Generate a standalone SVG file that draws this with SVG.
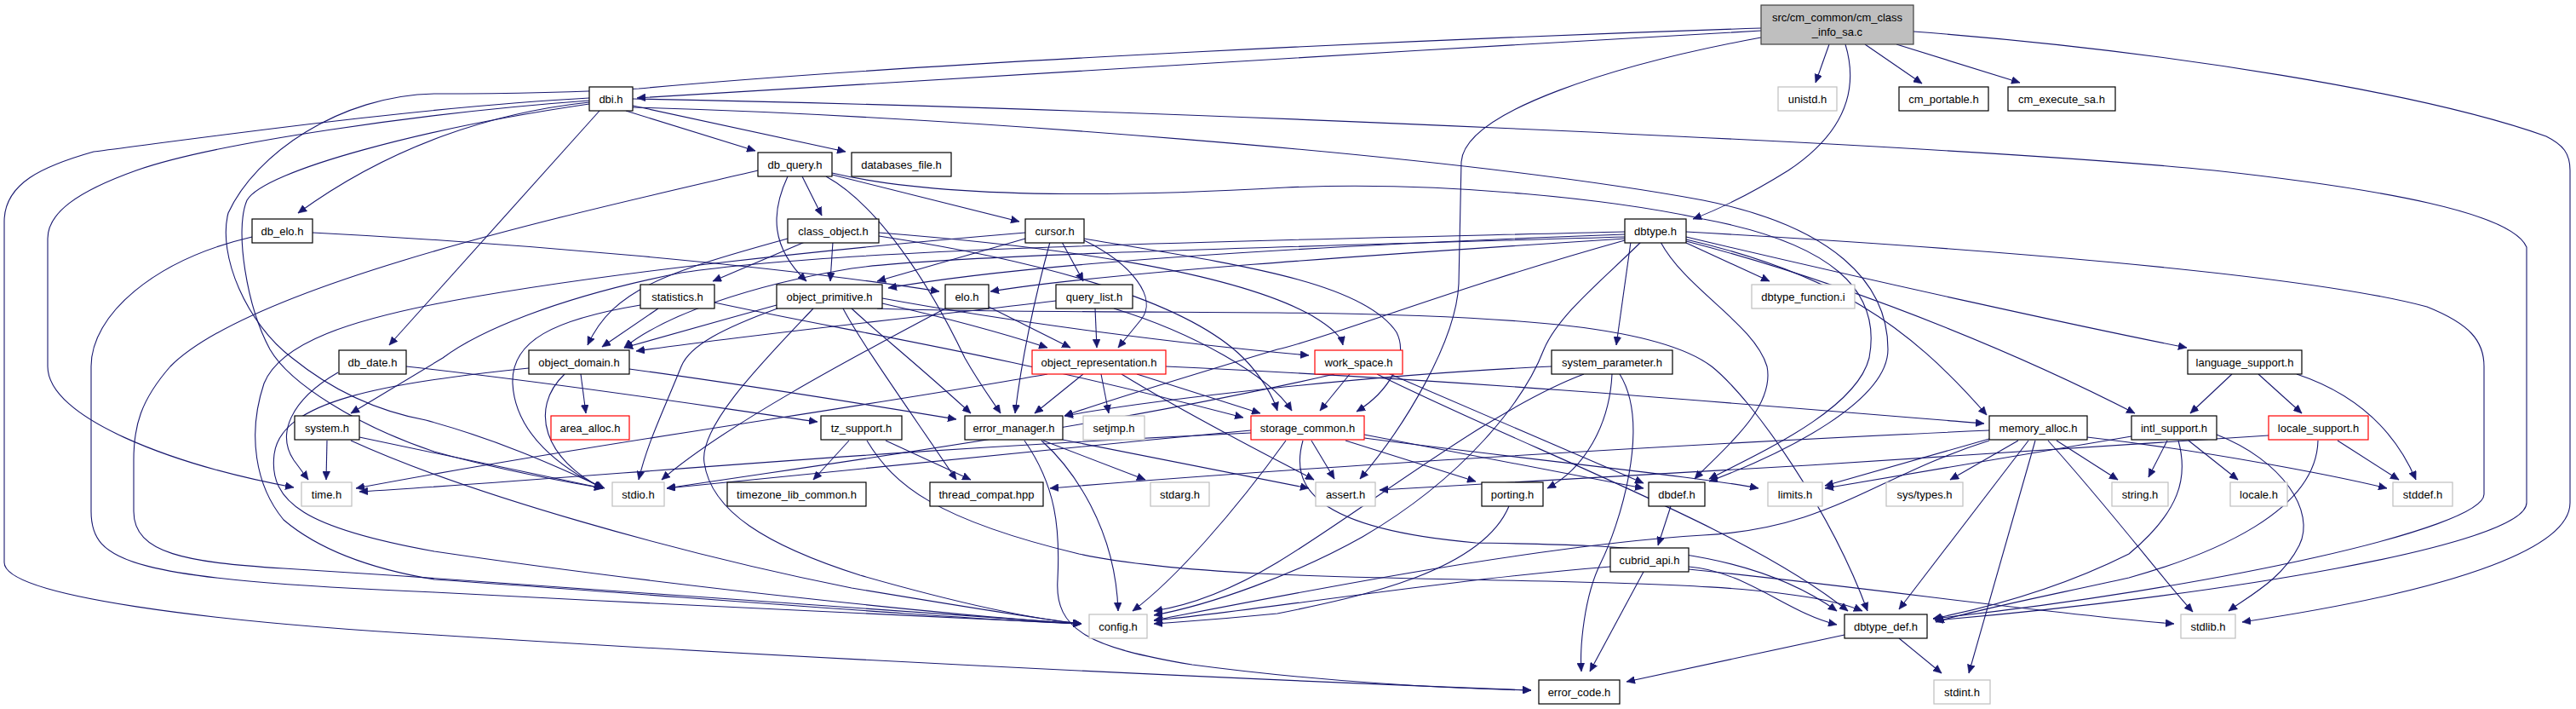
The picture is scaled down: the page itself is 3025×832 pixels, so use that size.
<svg xmlns="http://www.w3.org/2000/svg" width="3025" height="832" viewBox="0 0 3025 832">
<style>
.e{fill:none;stroke:#191970;stroke-width:1.1;marker-end:url(#ah)}
.n rect{fill:#fff;stroke:#000;stroke-width:1.2}
.g rect{fill:#fff;stroke:#bfbfbf;stroke-width:1.2}
.r rect{fill:#fff;stroke:#ff0000;stroke-width:1.2}
.root rect{fill:#bfbfbf;stroke:#404040;stroke-width:1.2}
text{font-family:"Liberation Sans",Arial,Helvetica,sans-serif;font-size:13px;fill:#000;text-anchor:middle}
</style>
<defs>
<marker id="ah" markerUnits="userSpaceOnUse" markerWidth="11" markerHeight="9" refX="10" refY="4.5" orient="auto"><path d="M0,0 L10,4.5 L0,9 z" fill="#191970" stroke="#191970" stroke-width="0.5"/></marker>
</defs>
<rect width="3025" height="832" fill="#fff"/>
<g id="edges">
<path class="e" d="M2068,36 C1600,62 1000,100 748,115"/>
<path class="e" d="M2148,52 L2132,97"/>
<path class="e" d="M2190,52 L2257,98"/>
<path class="e" d="M2227,52 L2372,97"/>
<path class="e" d="M2167,52 C2180,95 2175,150 2100,200 C2060,225 2020,245 1988,257"/>
<path class="e" d="M2068,44 C1900,75 1720,130 1716,190 L1713,333 C1710,400 1650,500 1597,562"/>
<path class="e" d="M2247,37 C2550,60 2850,110 2990,160 C3010,170 3018,180 3018,200 L3018,590 C3018,640 2900,690 2633,730"/>
<path class="e" d="M2068,33 C1700,45 1100,72 750,104 C650,110 560,110 510,110 C400,112 300,180 268,250 C255,300 290,380 343,420 C380,450 430,480 500,493 C600,520 680,560 710,573"/>
<path class="e" d="M735,130 L887,177"/>
<path class="e" d="M743,124 L993,178"/>
<path class="e" d="M704,130 L457,405"/>
<path class="e" d="M692,120 C580,132 460,170 350,250"/>
<path class="e" d="M692,118 C500,132 250,168 160,200 C90,225 56,250 56,280 L56,430 C56,490 200,545 345,572"/>
<path class="e" d="M692,115 C500,125 250,160 110,178 C50,195 5,215 5,260 L5,660 C5,700 250,730 510,745 C900,770 1400,795 1798,810"/>
<path class="e" d="M692,122 C500,150 310,200 290,235 C275,270 290,360 317,410 C340,450 420,500 510,530 C600,555 680,568 708,573"/>
<path class="e" d="M743,116 C1300,126 2300,170 2600,200 C2800,222 2950,250 2967,290 L2967,590 C2967,640 2600,700 2272,728"/>
<path class="e" d="M743,126 C1100,136 1700,180 2000,235 C2150,265 2217,330 2217,410 C2217,470 2100,530 2007,565"/>
<path class="e" d="M942,207 L965,253"/>
<path class="e" d="M925,207 C905,250 905,290 947,330"/>
<path class="e" d="M977,205 L1197,260"/>
<path class="e" d="M970,207 C1030,240 1090,330 1133,420 C1150,450 1165,470 1175,485"/>
<path class="e" d="M977,203 C1100,232 1300,232 1510,220 C1700,212 1900,235 2000,257 C2150,285 2210,340 2195,420 C2180,480 2070,530 2007,562"/>
<path class="e" d="M890,200 C700,245 300,330 200,430 C165,470 157,500 157,540 L157,600 C157,650 220,660 333,667 C700,690 1100,720 1270,732"/>
<path class="e" d="M945,284 L837,330"/>
<path class="e" d="M978,284 L975,330"/>
<path class="e" d="M925,280 C780,320 720,340 690,405"/>
<path class="e" d="M1032,273 C1250,290 1450,320 1540,370 C1565,385 1575,395 1577,405"/>
<path class="e" d="M1032,277 C1250,310 1400,360 1460,420 C1480,440 1495,465 1500,482"/>
<path class="e" d="M1204,280 L1030,330"/>
<path class="e" d="M1247,284 L1272,330"/>
<path class="e" d="M1233,284 C1215,350 1200,420 1192,485"/>
<path class="e" d="M1273,282 C1330,310 1360,350 1340,375 L1313,408"/>
<path class="e" d="M1273,280 C1450,310 1600,330 1640,390 C1655,420 1630,460 1593,483"/>
<path class="e" d="M1204,273 C1000,290 700,320 510,357 C420,375 330,400 310,450 C290,510 300,570 333,610 C380,650 450,670 510,680 C800,700 1100,725 1270,732"/>
<path class="e" d="M1286,362 L1288,408"/>
<path class="e" d="M1240,353 C1100,370 900,390 747,412"/>
<path class="e" d="M1308,362 C1400,390 1490,440 1517,482"/>
<path class="e" d="M773,362 L707,407"/>
<path class="e" d="M752,358 C650,375 600,400 602,450 C605,510 660,550 708,573"/>
<path class="e" d="M839,355 C1000,390 1150,410 1460,490"/>
<path class="e" d="M912,358 C850,375 780,395 733,408"/>
<path class="e" d="M913,362 C850,385 810,405 800,430 C780,480 760,520 750,563"/>
<path class="e" d="M955,362 C900,420 820,500 827,543 C835,600 900,640 1010,675 C1150,715 1230,728 1270,732"/>
<path class="e" d="M1000,362 C1030,390 1080,430 1140,485"/>
<path class="e" d="M990,362 C1010,400 1060,470 1123,563"/>
<path class="e" d="M1036,356 C1120,375 1190,395 1230,408"/>
<path class="e" d="M1036,350 C1200,380 1400,405 1537,417"/>
<path class="e" d="M1030,362 C1100,366 1400,366 1500,367 C1800,370 1950,385 2010,430 C2060,470 2150,600 2193,717"/>
<path class="e" d="M1110,362 C1000,420 850,500 777,563"/>
<path class="e" d="M1161,360 L1257,408"/>
<path class="e" d="M1908,280 C1600,300 1300,320 1163,342"/>
<path class="e" d="M1908,275 C1500,290 1200,310 1043,338"/>
<path class="e" d="M1908,278 C1500,290 1100,300 1000,315 C880,335 780,370 733,408"/>
<path class="e" d="M1908,272 C1500,282 1000,290 800,320 C650,350 560,390 520,420 L412,485"/>
<path class="e" d="M1908,282 C1700,340 1550,400 1500,410 C1400,440 1300,470 1250,488"/>
<path class="e" d="M1927,284 C1880,330 1830,370 1813,410 C1790,470 1720,560 1600,630 C1520,675 1420,710 1355,722"/>
<path class="e" d="M1915,284 L1898,405"/>
<path class="e" d="M1980,285 L2078,330"/>
<path class="e" d="M1980,281 C2150,320 2240,380 2333,487"/>
<path class="e" d="M1980,283 C2200,340 2400,430 2507,485"/>
<path class="e" d="M1980,278 C2200,330 2450,385 2568,408"/>
<path class="e" d="M1950,284 C1980,340 2060,380 2075,430 C2085,480 2020,530 1990,562"/>
<path class="e" d="M1980,272 C2300,290 2700,320 2850,360 C2900,380 2917,400 2917,430 L2917,580 C2917,620 2600,690 2270,726"/>
<path class="e" d="M682,439 L688,485"/>
<path class="e" d="M663,439 C620,480 640,540 708,573"/>
<path class="e" d="M739,433 C900,455 1050,480 1123,492"/>
<path class="e" d="M621,432 C450,450 330,470 322,533 C315,590 360,620 510,647 C800,690 1150,725 1270,732"/>
<path class="e" d="M367,273 C600,285 900,310 1103,342"/>
<path class="e" d="M296,278 C180,305 107,370 107,430 L107,600 C107,660 150,680 510,695 C800,710 1150,728 1270,732"/>
<path class="e" d="M397,437 C340,470 325,510 345,540 L362,563"/>
<path class="e" d="M477,430 C700,455 850,480 960,495"/>
<path class="e" d="M384,517 L383,563"/>
<path class="e" d="M422,513 C550,540 650,560 708,573"/>
<path class="e" d="M412,517 C550,580 800,650 1000,690 C1150,715 1230,728 1270,732"/>
<path class="e" d="M997,517 L955,563"/>
<path class="e" d="M1040,517 L1140,563"/>
<path class="e" d="M1018,517 C1050,570 1100,610 1267,650 C1500,700 2050,660 2187,717"/>
<path class="e" d="M1223,517 C1260,550 1310,620 1313,717"/>
<path class="e" d="M1225,517 L1345,563"/>
<path class="e" d="M1203,517 C1240,570 1245,620 1242,680 C1238,740 1280,760 1400,780 C1550,800 1700,808 1798,810"/>
<path class="e" d="M1248,516 L1537,573"/>
<path class="e" d="M1272,439 L1215,485"/>
<path class="e" d="M1293,439 L1302,485"/>
<path class="e" d="M1335,439 L1480,485"/>
<path class="e" d="M1230,439 C1000,480 700,520 418,573"/>
<path class="e" d="M1369,430 C1700,445 2000,470 2330,497"/>
<path class="e" d="M1317,439 C1400,490 1500,540 1543,563"/>
<path class="e" d="M1585,439 L1550,482"/>
<path class="e" d="M1567,439 C1300,500 1000,540 783,573"/>
<path class="e" d="M1630,438 L1930,567"/>
<path class="e" d="M1617,439 C1800,530 2050,620 2170,717"/>
<path class="e" d="M1822,430 C1600,440 1350,470 1250,488"/>
<path class="e" d="M1893,439 C1890,500 1860,550 1817,573"/>
<path class="e" d="M1860,439 C1750,480 1600,600 1500,660 C1450,690 1400,710 1355,717"/>
<path class="e" d="M1902,439 C1940,500 1900,620 1880,660 C1860,700 1855,760 1857,788"/>
<path class="e" d="M1540,517 L1567,562"/>
<path class="e" d="M1580,517 L1733,565"/>
<path class="e" d="M1602,510 L1930,573"/>
<path class="e" d="M1510,517 C1450,600 1380,680 1330,717"/>
<path class="e" d="M1602,514 C1800,540 2000,560 2065,573"/>
<path class="e" d="M1530,517 C1515,570 1540,620 1733,637 C1900,640 2050,640 2157,717"/>
<path class="e" d="M1469,508 C1000,530 700,560 422,577"/>
<path class="e" d="M1469,505 C1200,530 900,560 783,573"/>
<path class="e" d="M2336,515 L2143,570"/>
<path class="e" d="M2370,517 L2290,563"/>
<path class="e" d="M2415,517 L2487,563"/>
<path class="e" d="M2405,517 C2480,600 2540,680 2575,718"/>
<path class="e" d="M2390,517 L2312,790"/>
<path class="e" d="M2382,517 L2230,715"/>
<path class="e" d="M2336,505 C2000,520 1500,550 1233,573"/>
<path class="e" d="M2451,513 C2600,530 2750,560 2803,573"/>
<path class="e" d="M2336,517 C2200,560 2150,620 2000,628 C1800,640 1500,700 1355,728"/>
<path class="e" d="M2545,517 L2523,560"/>
<path class="e" d="M2570,517 L2628,563"/>
<path class="e" d="M2603,510 C2680,540 2720,600 2700,640 C2680,680 2640,700 2617,717"/>
<path class="e" d="M2558,517 C2570,560 2560,600 2500,650 C2400,700 2300,720 2270,726"/>
<path class="e" d="M2503,512 L2143,573"/>
<path class="e" d="M2745,517 L2817,563"/>
<path class="e" d="M2722,517 C2720,600 2600,650 2500,678 C2400,700 2300,720 2273,730"/>
<path class="e" d="M2664,511 C2400,530 1900,560 1620,575"/>
<path class="e" d="M2621,439 L2572,485"/>
<path class="e" d="M2652,439 L2703,485"/>
<path class="e" d="M2697,439 C2760,460 2810,500 2837,563"/>
<path class="e" d="M1772,594 C1740,670 1600,700 1500,720 C1420,728 1380,730 1355,732"/>
<path class="e" d="M1962,594 L1947,640"/>
<path class="e" d="M1891,665 C1700,680 1450,720 1355,728"/>
<path class="e" d="M1930,671 L1867,788"/>
<path class="e" d="M1983,665 C2050,670 2100,720 2157,733"/>
<path class="e" d="M1983,668 C2200,690 2400,720 2553,732"/>
<path class="e" d="M2230,749 L2280,790"/>
<path class="e" d="M2166,745 L1910,800"/>
</g>
<g id="node-root" class="root"><rect x="2068" y="6" width="179" height="46"/><text x="2157.5" y="25">src/cm_common/cm_class</text><text x="2157.5" y="42">_info_sa.c</text></g>
<g id="node-dbi" class="n"><rect x="692" y="102" width="51" height="28"/><text x="717.5" y="120.5">dbi.h</text></g>
<g id="node-unistd" class="g"><rect x="2088" y="102" width="69" height="28"/><text x="2122.5" y="120.5">unistd.h</text></g>
<g id="node-cm_portable" class="n"><rect x="2230" y="102" width="105" height="28"/><text x="2282.5" y="120.5">cm_portable.h</text></g>
<g id="node-cm_execute_sa" class="n"><rect x="2358" y="102" width="126" height="28"/><text x="2421" y="120.5">cm_execute_sa.h</text></g>
<g id="node-db_query" class="n"><rect x="890" y="179" width="87" height="28"/><text x="933.5" y="197.5">db_query.h</text></g>
<g id="node-databases_file" class="n"><rect x="1000" y="179" width="117" height="28"/><text x="1058.5" y="197.5">databases_file.h</text></g>
<g id="node-db_elo" class="n"><rect x="296" y="257" width="71" height="28"/><text x="331.5" y="275.5">db_elo.h</text></g>
<g id="node-class_object" class="n"><rect x="925" y="257" width="107" height="28"/><text x="978.5" y="275.5">class_object.h</text></g>
<g id="node-cursor" class="n"><rect x="1204" y="257" width="69" height="28"/><text x="1238.5" y="275.5">cursor.h</text></g>
<g id="node-dbtype" class="n"><rect x="1908" y="257" width="72" height="28"/><text x="1944" y="275.5">dbtype.h</text></g>
<g id="node-statistics" class="n"><rect x="752" y="334" width="87" height="28"/><text x="795.5" y="352.5">statistics.h</text></g>
<g id="node-object_primitive" class="n"><rect x="912" y="334" width="124" height="28"/><text x="974" y="352.5">object_primitive.h</text></g>
<g id="node-elo" class="n"><rect x="1110" y="334" width="51" height="28"/><text x="1135.5" y="352.5">elo.h</text></g>
<g id="node-query_list" class="n"><rect x="1240" y="334" width="90" height="28"/><text x="1285" y="352.5">query_list.h</text></g>
<g id="node-dbtype_function" class="g"><rect x="2057" y="334" width="121" height="28"/><text x="2117.5" y="352.5">dbtype_function.i</text></g>
<g id="node-db_date" class="n"><rect x="398" y="411" width="79" height="28"/><text x="437.5" y="429.5">db_date.h</text></g>
<g id="node-object_domain" class="n"><rect x="621" y="411" width="118" height="28"/><text x="680" y="429.5">object_domain.h</text></g>
<g id="node-object_representation" class="r"><rect x="1212" y="411" width="157" height="28"/><text x="1290.5" y="429.5">object_representation.h</text></g>
<g id="node-work_space" class="r"><rect x="1544" y="411" width="103" height="28"/><text x="1595.5" y="429.5">work_space.h</text></g>
<g id="node-system_parameter" class="n"><rect x="1822" y="411" width="142" height="28"/><text x="1893" y="429.5">system_parameter.h</text></g>
<g id="node-language_support" class="n"><rect x="2569" y="411" width="134" height="28"/><text x="2636" y="429.5">language_support.h</text></g>
<g id="node-system" class="n"><rect x="346" y="488" width="76" height="28"/><text x="384" y="506.5">system.h</text></g>
<g id="node-area_alloc" class="r"><rect x="647" y="488" width="92" height="28"/><text x="693" y="506.5">area_alloc.h</text></g>
<g id="node-tz_support" class="n"><rect x="964" y="488" width="95" height="28"/><text x="1011.5" y="506.5">tz_support.h</text></g>
<g id="node-error_manager" class="n"><rect x="1133" y="488" width="115" height="28"/><text x="1190.5" y="506.5">error_manager.h</text></g>
<g id="node-setjmp" class="g"><rect x="1272" y="488" width="72" height="28"/><text x="1308" y="506.5">setjmp.h</text></g>
<g id="node-storage_common" class="r"><rect x="1469" y="488" width="133" height="28"/><text x="1535.5" y="506.5">storage_common.h</text></g>
<g id="node-memory_alloc" class="n"><rect x="2336" y="488" width="115" height="28"/><text x="2393.5" y="506.5">memory_alloc.h</text></g>
<g id="node-intl_support" class="n"><rect x="2503" y="488" width="100" height="28"/><text x="2553" y="506.5">intl_support.h</text></g>
<g id="node-locale_support" class="r"><rect x="2664" y="488" width="117" height="28"/><text x="2722.5" y="506.5">locale_support.h</text></g>
<g id="node-time" class="g"><rect x="354" y="566" width="59" height="28"/><text x="383.5" y="584.5">time.h</text></g>
<g id="node-stdio" class="g"><rect x="719" y="566" width="61" height="28"/><text x="749.5" y="584.5">stdio.h</text></g>
<g id="node-timezone_lib_common" class="n"><rect x="854" y="566" width="163" height="28"/><text x="935.5" y="584.5">timezone_lib_common.h</text></g>
<g id="node-thread_compat" class="n"><rect x="1092" y="566" width="133" height="28"/><text x="1158.5" y="584.5">thread_compat.hpp</text></g>
<g id="node-stdarg" class="g"><rect x="1351" y="566" width="69" height="28"/><text x="1385.5" y="584.5">stdarg.h</text></g>
<g id="node-assert" class="g"><rect x="1545" y="566" width="70" height="28"/><text x="1580" y="584.5">assert.h</text></g>
<g id="node-porting" class="n"><rect x="1740" y="566" width="72" height="28"/><text x="1776" y="584.5">porting.h</text></g>
<g id="node-dbdef" class="n"><rect x="1936" y="566" width="66" height="28"/><text x="1969" y="584.5">dbdef.h</text></g>
<g id="node-limits" class="g"><rect x="2076" y="566" width="64" height="28"/><text x="2108" y="584.5">limits.h</text></g>
<g id="node-sys_types" class="g"><rect x="2215" y="566" width="90" height="28"/><text x="2260" y="584.5">sys/types.h</text></g>
<g id="node-string" class="g"><rect x="2480" y="566" width="66" height="28"/><text x="2513" y="584.5">string.h</text></g>
<g id="node-locale" class="g"><rect x="2619" y="566" width="67" height="28"/><text x="2652.5" y="584.5">locale.h</text></g>
<g id="node-stddef" class="g"><rect x="2810" y="566" width="70" height="28"/><text x="2845" y="584.5">stddef.h</text></g>
<g id="node-cubrid_api" class="n"><rect x="1891" y="643" width="92" height="28"/><text x="1937" y="661.5">cubrid_api.h</text></g>
<g id="node-config" class="g"><rect x="1279" y="721" width="68" height="28"/><text x="1313" y="739.5">config.h</text></g>
<g id="node-dbtype_def" class="n"><rect x="2166" y="721" width="97" height="28"/><text x="2214.5" y="739.5">dbtype_def.h</text></g>
<g id="node-stdlib" class="g"><rect x="2561" y="721" width="64" height="28"/><text x="2593" y="739.5">stdlib.h</text></g>
<g id="node-error_code" class="n"><rect x="1807" y="798" width="95" height="28"/><text x="1854.5" y="816.5">error_code.h</text></g>
<g id="node-stdint" class="g"><rect x="2271" y="798" width="66" height="28"/><text x="2304" y="816.5">stdint.h</text></g>
</svg>
